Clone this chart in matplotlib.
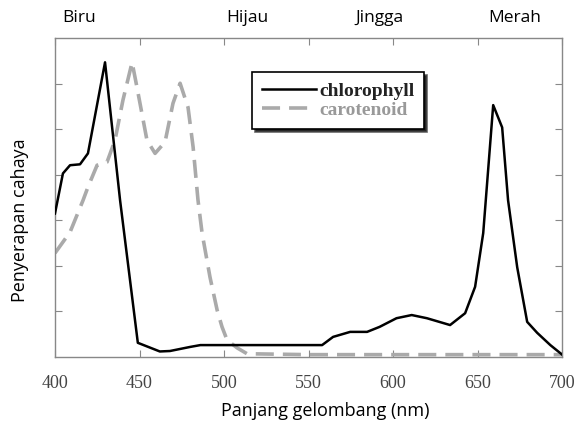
import matplotlib.pyplot as plt
import matplotlib.transforms as mtransforms

# chlorophyll absorption (arbitrary units)
chl_nm = [400, 404.7, 408.9, 414.8, 419.5, 429.6, 438.5, 449, 462, 468, 480, 486,
          558, 564.5, 574.6, 584.6, 592, 602, 611, 620, 633.7, 642.6, 648.5, 653.3,
          659.2, 664.5, 668, 673.4, 679.3, 685.2, 693, 700]
chl_abs = [3.15, 4.03, 4.21, 4.23, 4.47, 6.47, 3.44, 0.31, 0.12, 0.13, 0.22, 0.26,
           0.26, 0.44, 0.55, 0.55, 0.66, 0.85, 0.92, 0.85, 0.70, 0.96, 1.54, 2.72,
           5.53, 5.04, 3.44, 1.97, 0.77, 0.53, 0.26, 0.05]

# carotenoid absorption
car_nm = [400, 408.9, 416.6, 419.5, 424.9, 430.8, 435.5, 440.2, 445.6, 448.5, 454.4,
          459.2, 465.1, 469.8, 474, 478.7, 481.7, 484.6, 487, 491.7, 495.9, 498.8,
          501.8, 507.7, 513.6, 550, 600, 650, 700]
car_abs = [2.28, 2.74, 3.44, 3.73, 4.21, 4.28, 4.76, 5.64, 6.47, 5.92, 4.76,
           4.47, 4.72, 5.57, 6.01, 5.48, 4.61, 3.44, 2.72, 1.75, 1.03, 0.66,
           0.37, 0.20, 0.07, 0.05, 0.05, 0.05, 0.05]

xticks = [400, 450, 500, 550, 600, 650, 700]
color_names = ["Biru", "Hijau", "Jingga", "Merah"]
color_pos = [414, 513.6, 592, 672]

fig = plt.figure(figsize=(5.77, 4.29), dpi=100)
ax = fig.add_axes([0.0953, 0.168, 0.879, 0.743])

ax.plot(chl_nm, chl_abs, color='black', lw=1.8, label='chlorophyll', zorder=3)
ax.plot(car_nm, car_abs, color='#aaaaaa', lw=2.6, ls=(0, (5, 2.5)),
        label='carotenoid', zorder=2)

ax.set_xlim(400, 700)
ax.set_ylim(0, 7)
ax.set_xticks(xticks)
ax.set_yticks(range(1, 7))
ax.set_yticklabels([])
ax.tick_params(direction='in', top=True, right=True, length=5, color='#888888',
               labelsize=13, labelcolor='#444444', pad=13)
for lbl in ax.get_xticklabels():
    lbl.set_family('Liberation Serif')
for s in ax.spines.values():
    s.set_color('#888888')
    s.set_linewidth(1.0)

leg = ax.legend(loc='upper left', bbox_to_anchor=(0.389, 0.893), frameon=True,
                fancybox=False, shadow={'facecolor': 'black', 'alpha': 0.85},
                handlelength=2.8, handletextpad=0.15, borderpad=0.5,
                borderaxespad=0, labelspacing=0.1,
                prop={'family': 'Liberation Serif', 'weight': 'bold', 'size': 14})
leg.get_frame().set_edgecolor('black')
leg.get_frame().set_linewidth(1.2)
for t, c in zip(leg.get_texts(), ['#222222', '#999999']):
    t.set_color(c)

trans = mtransforms.blended_transform_factory(ax.transData, ax.transAxes)
for name, x in zip(color_names, color_pos):
    ax.text(x, 1.063, name, transform=trans, ha='center', va='center',
            fontsize=12.5, family='Open Sans')

fig.text(325 / 577, 1 - 411 / 429, 'Panjang gelombang (nm)', ha='center',
         va='center', fontsize=13, family='Open Sans')
fig.text(20 / 577, 1 - 220 / 429, 'Penyerapan cahaya', ha='center', va='center',
         rotation=90, fontsize=13, family='Open Sans')

fig.savefig('out.png', dpi=100)
